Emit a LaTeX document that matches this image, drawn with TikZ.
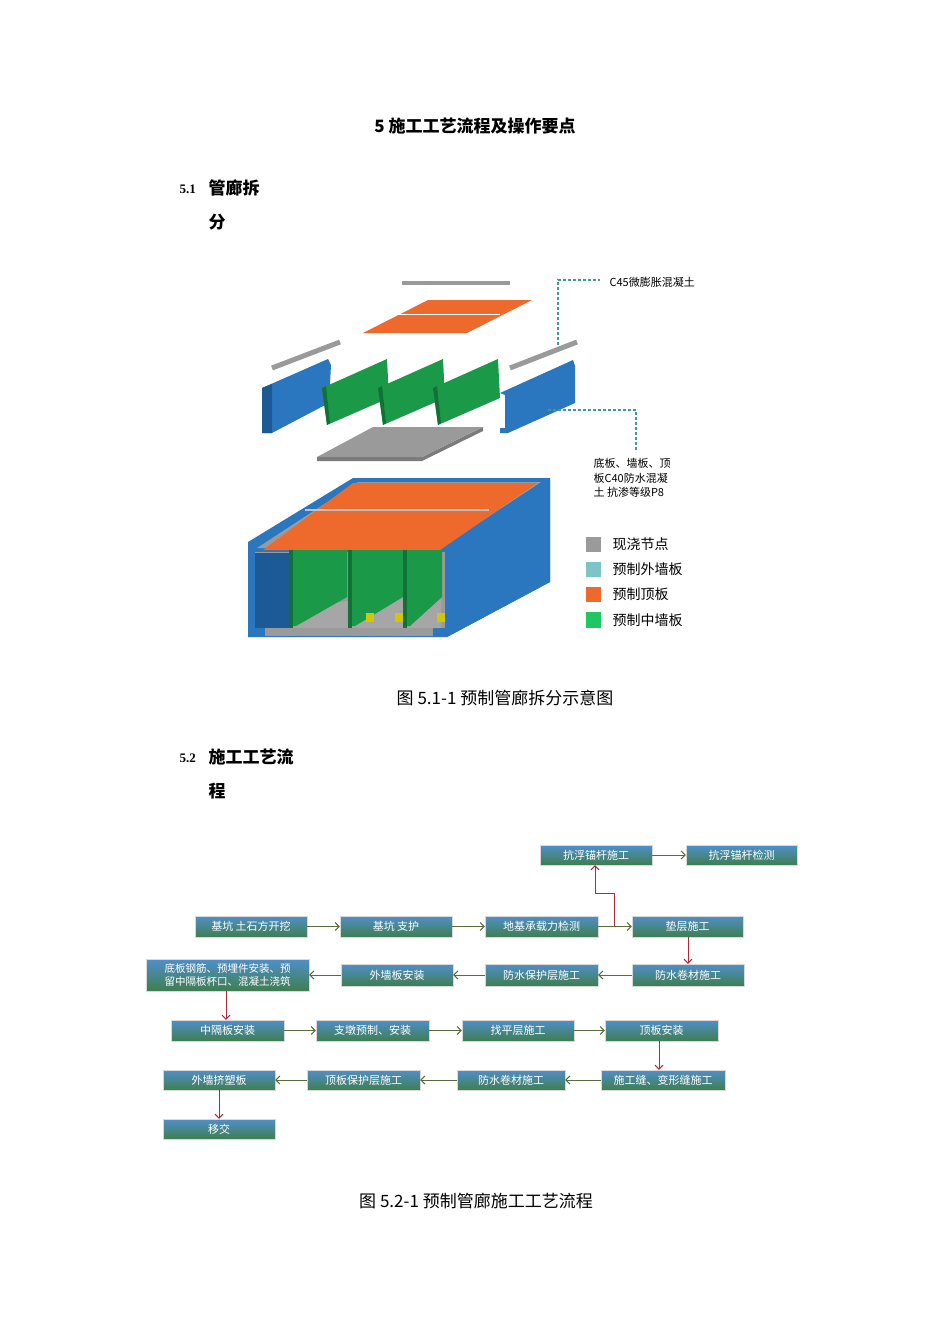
\documentclass[tikz,border=0pt]{standalone}
\usepackage{fontspec}
\setmainfont{Liberation Serif}
\newfontfamily\cjk{Noto Sans CJK SC}
\usetikzlibrary{arrows.meta}
\definecolor{bl}{HTML}{2A77C0}
\definecolor{bld}{HTML}{1B5A94}
\definecolor{gr}{HTML}{1A9A48}
\definecolor{grd}{HTML}{137036}
\definecolor{og}{HTML}{EE6A2C}
\definecolor{gy}{HTML}{9A9A9A}
\definecolor{tl}{HTML}{3E9A9A}
\definecolor{arg}{HTML}{5A6B3C}
\definecolor{arr}{HTML}{B0283A}
\definecolor{bxtop}{HTML}{4F8FCB}
\definecolor{bxbot}{HTML}{3F7E4E}
\definecolor{lteal}{HTML}{7CC4C8}
\definecolor{lgreen}{HTML}{1FC760}
\newcommand{\bx}[6]{\node[box,ft,minimum width=#4-#2,minimum height=#5-#3,align=center] (#1) at ({(#2+#4)/2},{(#3+#5)/2}) {#6};}
\begin{document}
\begin{tikzpicture}[x=1pt,y=-1pt,
 box/.style={draw=white!70!gray,line width=0.4pt,top color=bxtop,bottom color=bxbot,inner sep=0pt},
 ga/.style={arg,line width=1pt,-{Straight Barb[length=4pt]}},
 ra/.style={arr,line width=1pt,-{Straight Barb[length=4pt]}},
 lg/.style={font=\cjk\fontsize{14}{16}\selectfont,anchor=west},
 ft/.style={font=\cjk\fontsize{11}{13}\selectfont,text=white},
 tdash/.style={tl,line width=1.2pt,dash pattern=on 3pt off 2pt}]
\useasboundingbox (0,0) rectangle (950,1344);
% headings
\node[font=\cjk\bfseries\fontsize{17}{20}\selectfont] (h0) at (475,126) {5 施工工艺流程及操作要点};
\node[font=\bfseries\fontsize{13}{15}\selectfont,anchor=west] (h1n) at (176,189) {5.1};
\node[font=\cjk\bfseries\fontsize{17}{20}\selectfont,anchor=west] (h1) at (205,188) {管廊拆};
\node[font=\cjk\bfseries\fontsize{17}{20}\selectfont,anchor=west] (h1b) at (205,222) {分};
\node[font=\bfseries\fontsize{13}{15}\selectfont,anchor=west] (h2n) at (176,758) {5.2};
\node[font=\cjk\bfseries\fontsize{17}{20}\selectfont,anchor=west] (h2) at (205,757) {施工工艺流};
\node[font=\cjk\bfseries\fontsize{17}{20}\selectfont,anchor=west] (h2b) at (205,791) {程};
\node[font=\cjk\fontsize{17}{20}\selectfont] (c1) at (505,698) {图 5.1-1 预制管廊拆分示意图};
\node[font=\cjk\fontsize{17}{20}\selectfont] (c2) at (476,1201) {图 5.2-1 预制管廊施工工艺流程};
% ===== exploded parts =====
\draw[gy,line width=4pt] (402,283) -- (510,283);
\fill[og] (363,333) -- (428,300) -- (532,300) -- (467,333) -- cycle;
\draw[white,line width=1pt] (397,314) -- (500,314);
\draw[gy,line width=5pt] (272,368) -- (340,342);
\draw[gy,line width=5pt] (510,368) -- (577,342);
\fill[bl] (262,388) -- (328,359) -- (331,365) -- (329,403) -- (272,433) -- (262,433) -- cycle;
\fill[bld] (262,388) -- (272,384) -- (272,433) -- (262,433) -- cycle;
\fill[bl] (500,393) -- (573,360) -- (575,366) -- (575,403) -- (508,433) -- (500,433) -- (500,428) -- (505,428) -- (505,395) -- cycle;
\foreach \d in {0,56,111}{
 \fill[gr] (322+\d,388) -- (387+\d,359) -- (389+\d,398) -- (327+\d,425) -- cycle;
 \fill[grd] (322+\d,388) -- (326+\d,386) -- (330+\d,423) -- (327+\d,425) -- cycle;}
\fill[gy!80!black] (317,457) -- (317,461) -- (422,461) -- (483,431) -- (483,427) -- (422,457) -- cycle;
\fill[gy] (317,457) -- (373,427) -- (483,427) -- (422,457) -- cycle;
\draw[tdash] (558,345) -- (558,280) -- (600,280);
\draw[tdash] (548,410) -- (636,410) -- (636,452);
\node[font=\cjk\fontsize{11}{13}\selectfont,anchor=west] (lbA) at (606,282) {C45微膨胀混凝土};
\node[font=\cjk\fontsize{11}{14.5}\selectfont,anchor=north west,align=left] (lbB) at (590,455) {底板、墙板、顶\\板C40防水混凝\\土 抗渗等级P8};
% ===== assembled box =====
\fill[bl] (248,542) -- (353,478) -- (550,478) -- (550,582) -- (447,637) -- (248,637) -- cycle;
\fill[gy] (257,548) -- (358,482) -- (541,482) -- (441,548) -- cycle;
\fill[og] (263,550) -- (353,483) -- (537,483) -- (440,550) -- cycle;
\draw[gy!60!white,line width=1.2pt] (305,510) -- (489,510);
\fill[gy] (255,552) rectangle (445,628);
\fill[bld] (255,553) rectangle (292,628);
\fill[gray!70] (292,628) -- (292,610) -- (441,585) -- (441,628) -- cycle;
\foreach \a/\b in {293/347,352/403,407/442}{
 \fill[gr] (\a,550) -- (\b,550) -- (\b,597) -- (\a+3,626) -- (\a,626) -- cycle;
 \fill[grd] (\a-4,550) rectangle (\a,628);}
\foreach \p in {366,395,437}{\fill[yellow!60!olive] (\p,613) rectangle (\p+8,622);}
\fill[gy] (265,628) rectangle (433,636);
\fill[bl] (447,547) -- (550,480) -- (550,582) -- (447,637) -- cycle;
% legend
\fill[gy] (586,537) rectangle (601,552);
\fill[lteal] (586,562) rectangle (601,577);
\fill[og] (586,587) rectangle (601,602);
\fill[lgreen] (586,612) rectangle (601,628);
\node[lg] (l1) at (609,544) {现浇节点};
\node[lg] (l2) at (609,569) {预制外墙板};
\node[lg] (l3) at (609,594) {预制顶板};
\node[lg] (l4) at (609,620) {预制中墙板};
% ===== flowchart =====
\bx{a1}{540}{845}{652}{865}{抗浮锚杆施工}
\bx{a2}{686}{845}{797}{865}{抗浮锚杆检测}
\bx{b1}{195}{916}{307}{937}{基坑 土石方开挖}
\bx{b2}{340}{916}{452}{937}{基坑 支护}
\bx{b3}{485}{916}{598}{937}{地基承载力检测}
\bx{b4}{632}{916}{743}{937}{垫层施工}
\node[box,font=\cjk\fontsize{10.5}{13}\selectfont,text=white,minimum width=163,minimum height=32,align=center] (c1b) at (227.5,975) {底板钢筋、预埋件安装、预\\留中隔板杯口、混凝土浇筑};
\bx{c2b}{341}{964}{453}{986}{外墙板安装}
\bx{c3}{485}{964}{598}{986}{防水保护层施工}
\bx{c4}{632}{964}{744}{986}{防水卷材施工}
\bx{d1}{171}{1020}{284}{1041}{中隔板安装}
\bx{d2}{316}{1020}{429}{1041}{支墩预制、安装}
\bx{d3}{462}{1020}{574}{1041}{找平层施工}
\bx{d4}{605}{1020}{718}{1041}{顶板安装}
\bx{e1}{163}{1070}{275}{1090}{外墙挤塑板}
\bx{e2}{307}{1070}{420}{1090}{顶板保护层施工}
\bx{e3}{457}{1070}{565}{1090}{防水卷材施工}
\bx{e4}{601}{1070}{725}{1090}{施工缝、变形缝施工}
\bx{f1}{163}{1119}{275}{1139}{移交}
\draw[ga] (a1) -- (a2);
\draw[ga] (b1) -- (b2); \draw[ga] (b2) -- (b3); \draw[ga] (b3) -- (b4);
\draw[ga] (c4) -- (c3); \draw[ga] (c3) -- (c2b); \draw[ga] (c2b) -- (c1b);
\draw[ga] (d1) -- (d2); \draw[ga] (d2) -- (d3); \draw[ga] (d3) -- (d4);
\draw[ga] (e4) -- (e3); \draw[ga] (e3) -- (e2); \draw[ga] (e2) -- (e1);
\coordinate (r1) at (614,926);
\draw[ra] (r1) -- (614,893) -- (595,893) -- (a1.south -| 595,0);
\draw[ra] (b4.south -| 688,0) -- (c4.north -| 688,0);
\draw[ra] (c1b.south -| 226,0) -- (d1.north -| 226,0);
\draw[ra] (d4.south -| 659,0) -- (e4.north -| 659,0);
\draw[ra] (e1.south -| 219,0) -- (f1.north -| 219,0);
\end{tikzpicture}
\end{document}
